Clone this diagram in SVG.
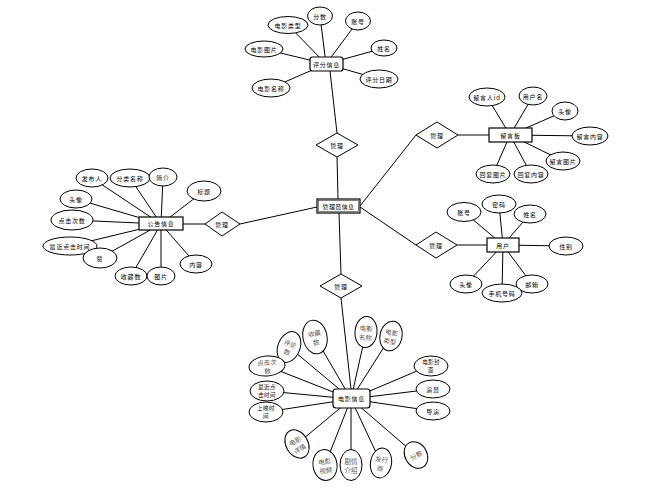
<svg xmlns="http://www.w3.org/2000/svg" width="657" height="488" viewBox="0 0 657 488">
<style>
.e{fill:#fff;stroke:#000;stroke-width:1}
.r{fill:#fff;stroke:#000;stroke-width:1.2}
.d{fill:#fff;stroke:#000;stroke-width:1}
.l{stroke:#000;stroke-width:1;fill:none}
text{font-family:"Noto Sans CJK SC","Noto Sans",sans-serif;font-size:6px;text-anchor:middle;dominant-baseline:central;fill:#000;letter-spacing:0.8px}
.g{fill:#555;font-size:6.5px;letter-spacing:0}
.s{font-size:5.5px;letter-spacing:0.4px}
</style>
<rect width="657" height="488" fill="#fff"/>
<g id="connectors">
<line class="l" x1="326" y1="64" x2="288" y2="25"/>
<line class="l" x1="326" y1="64" x2="320" y2="16"/>
<line class="l" x1="326" y1="64" x2="358" y2="21"/>
<line class="l" x1="326" y1="64" x2="384" y2="48"/>
<line class="l" x1="326" y1="64" x2="379" y2="79"/>
<line class="l" x1="326" y1="64" x2="264" y2="49"/>
<line class="l" x1="326" y1="64" x2="271" y2="88"/>
<line class="l" x1="330" y1="71" x2="337" y2="133"/>
<line class="l" x1="337" y1="157" x2="338" y2="199"/>
<line class="l" x1="360" y1="206" x2="416" y2="135"/>
<line class="l" x1="360" y1="207" x2="416" y2="245"/>
<line class="l" x1="317" y1="207" x2="240" y2="224"/>
<line class="l" x1="339" y1="213" x2="341" y2="274"/>
<line class="l" x1="341" y1="298" x2="351" y2="389"/>
<line class="l" x1="458" y1="135" x2="489" y2="135"/>
<line class="l" x1="510" y1="135" x2="487" y2="97"/>
<line class="l" x1="510" y1="135" x2="533" y2="96"/>
<line class="l" x1="510" y1="135" x2="565" y2="111"/>
<line class="l" x1="510" y1="135" x2="590" y2="136"/>
<line class="l" x1="510" y1="135" x2="563" y2="161"/>
<line class="l" x1="510" y1="135" x2="493" y2="174"/>
<line class="l" x1="510" y1="135" x2="531" y2="174"/>
<line class="l" x1="457" y1="245" x2="487" y2="245"/>
<line class="l" x1="503" y1="245" x2="464" y2="212"/>
<line class="l" x1="503" y1="245" x2="499" y2="204"/>
<line class="l" x1="503" y1="245" x2="530" y2="214"/>
<line class="l" x1="503" y1="245" x2="566" y2="246"/>
<line class="l" x1="503" y1="245" x2="532" y2="284"/>
<line class="l" x1="503" y1="245" x2="502" y2="293"/>
<line class="l" x1="503" y1="245" x2="466" y2="284"/>
<line class="l" x1="183" y1="224" x2="205" y2="224"/>
<line class="l" x1="161" y1="224" x2="92" y2="178"/>
<line class="l" x1="161" y1="224" x2="130" y2="178"/>
<line class="l" x1="161" y1="224" x2="163" y2="177"/>
<line class="l" x1="161" y1="224" x2="204" y2="191"/>
<line class="l" x1="161" y1="224" x2="76" y2="199"/>
<line class="l" x1="161" y1="224" x2="72" y2="220"/>
<line class="l" x1="161" y1="224" x2="70" y2="246"/>
<line class="l" x1="161" y1="224" x2="100" y2="258"/>
<line class="l" x1="161" y1="224" x2="131" y2="276"/>
<line class="l" x1="161" y1="224" x2="161" y2="276"/>
<line class="l" x1="161" y1="224" x2="196" y2="264"/>
<line class="l" x1="351" y1="399" x2="289" y2="347"/>
<line class="l" x1="351" y1="399" x2="315" y2="337"/>
<line class="l" x1="351" y1="399" x2="366" y2="332"/>
<line class="l" x1="351" y1="399" x2="391" y2="336"/>
<line class="l" x1="351" y1="399" x2="267" y2="366"/>
<line class="l" x1="351" y1="399" x2="267" y2="391"/>
<line class="l" x1="351" y1="399" x2="266" y2="412"/>
<line class="l" x1="351" y1="399" x2="431" y2="365"/>
<line class="l" x1="351" y1="399" x2="433" y2="389"/>
<line class="l" x1="351" y1="399" x2="433" y2="411"/>
<line class="l" x1="351" y1="399" x2="297" y2="444"/>
<line class="l" x1="351" y1="399" x2="325" y2="465"/>
<line class="l" x1="351" y1="399" x2="351" y2="465"/>
<line class="l" x1="351" y1="399" x2="381" y2="463"/>
<line class="l" x1="351" y1="399" x2="416" y2="455"/>
</g>

<g id="admin">
<rect class="r" x="317" y="199" width="43" height="14" stroke-width="1.6"/>
<rect x="318.5" y="200.5" width="40" height="11" fill="none" stroke="#000" stroke-width="0.5"/>
<text x="338.5" y="206" style="letter-spacing:0.4px">管理员信息</text>
</g>

<g id="rel-rating"><polygon class="d" points="337,133 358,145 337,157 316,145"/><text x="337" y="145">管理</text></g>
<g id="rel-msg"><polygon class="d" points="437,122 458,135 437,148 416,135"/><text x="437" y="135">管理</text></g>
<g id="rel-user"><polygon class="d" points="436,232 457,245 436,258 416,245"/><text x="436" y="245">管理</text></g>
<g id="rel-notice"><polygon class="d" points="222,212 240,224 222,236 205,224"/><text x="222" y="224">管理</text></g>
<g id="rel-movie"><polygon class="d" points="341,274 362,286 341,298 320,286"/><text x="341" y="286">管理</text></g>

<g id="rating">
<rect class="r" x="310" y="57" width="33" height="14" rx="2.5"/>
<text x="326.5" y="64">评分信息</text>
<ellipse class="e" cx="288" cy="25" rx="20" ry="8.5"/><text x="288" y="25">电影类型</text>
<ellipse class="e" cx="320" cy="16" rx="12.5" ry="9"/><text x="320" y="16">分数</text>
<ellipse class="e" cx="358" cy="21" rx="12.5" ry="9"/><text x="358" y="21">账号</text>
<ellipse class="e" cx="384" cy="48" rx="13" ry="8"/><text x="384" y="48">姓名</text>
<ellipse class="e" cx="379" cy="79" rx="19" ry="9"/><text x="379" y="79">评分日期</text>
<ellipse class="e" cx="264" cy="49" rx="19" ry="8"/><text x="264" y="49">电影图片</text>
<ellipse class="e" cx="271" cy="88" rx="19" ry="9"/><text x="271" y="88">电影名称</text>
</g>

<g id="msgboard">
<rect class="r" x="489" y="128" width="43" height="14"/>
<text x="510.5" y="135">留言板</text>
<ellipse class="e" cx="487" cy="97" rx="18" ry="9"/><text x="487" y="97">留言人id</text>
<ellipse class="e" cx="533" cy="96" rx="14" ry="9"/><text x="533" y="96">用户名</text>
<ellipse class="e" cx="565" cy="111" rx="13" ry="9"/><text x="565" y="111">头像</text>
<ellipse class="e" cx="590" cy="136" rx="18" ry="9"/><text x="590" y="136">留言内容</text>
<ellipse class="e" cx="563" cy="161" rx="17" ry="9"/><text x="563" y="161">留言图片</text>
<ellipse class="e" cx="493" cy="174" rx="17" ry="9"/><text x="493" y="174">回复图片</text>
<ellipse class="e" cx="531" cy="174" rx="17" ry="9"/><text x="531" y="174">回复内容</text>
</g>

<g id="user">
<rect class="r" x="487" y="238" width="32" height="14"/>
<text x="503" y="245">用户</text>
<ellipse class="e" cx="464" cy="212" rx="17" ry="9.5"/><text x="464" y="212">账号</text>
<ellipse class="e" cx="499" cy="204" rx="17" ry="9"/><text x="499" y="204">密码</text>
<ellipse class="e" cx="530" cy="214" rx="16" ry="9"/><text x="530" y="214">姓名</text>
<ellipse class="e" cx="566" cy="246" rx="17" ry="9"/><text x="566" y="246">性别</text>
<ellipse class="e" cx="532" cy="284" rx="16" ry="9"/><text x="532" y="284">邮箱</text>
<ellipse class="e" cx="502" cy="293" rx="20" ry="9"/><text x="502" y="293">手机号码</text>
<ellipse class="e" cx="466" cy="284" rx="16" ry="9"/><text x="466" y="284">头像</text>
</g>

<g id="notice">
<rect class="r" x="139" y="217" width="44" height="13"/>
<text x="161" y="223.5">公告信息</text>
<ellipse class="e" cx="92" cy="178" rx="16" ry="9"/><text x="92" y="178">发布人</text>
<ellipse class="e" cx="130" cy="178" rx="20" ry="9"/><text x="130" y="178">分类名称</text>
<ellipse class="e" cx="163" cy="177" rx="14" ry="9"/><text x="163" y="177">简介</text>
<ellipse class="e" cx="204" cy="191" rx="17" ry="10"/><text x="204" y="191">标题</text>
<ellipse class="e" cx="76" cy="199" rx="16" ry="9"/><text x="76" y="199">头像</text>
<ellipse class="e" cx="72" cy="220" rx="21" ry="10"/><text x="72" y="220">点击次数</text>
<ellipse class="e" cx="70" cy="246" rx="27" ry="9"/><text x="70" y="246">最近点击时间</text>
<ellipse class="e" cx="100" cy="258" rx="17" ry="10"/><text x="100" y="258">赞</text>
<ellipse class="e" cx="131" cy="276" rx="16" ry="9"/><text x="131" y="276">收藏数</text>
<ellipse class="e" cx="161" cy="276" rx="14" ry="9"/><text x="161" y="276">图片</text>
<ellipse class="e" cx="196" cy="264" rx="16" ry="9"/><text x="196" y="264">内容</text>
</g>

<g id="movie">
<rect class="r" x="333" y="389" width="37" height="19" rx="3"/>
<text x="351.5" y="398.5">电影信息</text>
<g transform="translate(289,347) rotate(22)"><ellipse class="e" rx="11" ry="16"/><text class="g" y="-4">评论</text><text class="g" y="5">数</text></g>
<g transform="translate(315,337) rotate(-12)"><ellipse class="e" rx="12" ry="17"/><text class="g" y="-4">收藏</text><text class="g" y="5">数</text></g>
<g transform="translate(366,332) rotate(5)"><ellipse class="e" rx="11" ry="15.5"/><text class="g" y="-4">电影</text><text class="g" y="5">名称</text></g>
<g transform="translate(391,336) rotate(12)"><ellipse class="e" rx="11" ry="15"/><text class="g" y="-4">电影</text><text class="g" y="5">类型</text></g>
<g transform="translate(267,366) rotate(-5)"><ellipse class="e" rx="18" ry="10"/><text class="g" y="-4">点击次</text><text class="g" y="4.5">数</text></g>
<ellipse class="e" cx="267" cy="391" rx="17" ry="10"/><text class="s" x="267" y="387">最近点</text><text class="s" x="267" y="395">击时间</text>
<ellipse class="e" cx="266" cy="412" rx="17" ry="10"/><text class="s" x="266" y="408">上映时</text><text class="s" x="266" y="416">间</text>
<ellipse class="e" cx="431" cy="366" rx="17" ry="10"/><text class="s" x="431" y="362">电影封</text><text class="s" x="431" y="370">面</text>
<ellipse class="e" cx="433" cy="389" rx="17" ry="9"/><text x="433" y="389">演员</text>
<ellipse class="e" cx="433" cy="411" rx="17" ry="9"/><text x="433" y="411">导演</text>
<g transform="translate(297,444) rotate(-30)"><ellipse class="e" rx="11" ry="15"/><text class="g" y="-4">电影</text><text class="g" y="5">详情</text></g>
<g transform="translate(325,465) rotate(-8)"><ellipse class="e" rx="12" ry="15.5"/><text class="g" y="-4">电影</text><text class="g" y="5">视频</text></g>
<g transform="translate(351,465)"><ellipse class="e" rx="11" ry="15.5"/><text class="g" y="-4">剧情</text><text class="g" y="5">介绍</text></g>
<g transform="translate(381,463) rotate(10)"><ellipse class="e" rx="10.5" ry="15"/><text class="g" y="-4">发行</text><text class="g" y="5">商</text></g>
<g transform="translate(416,455) rotate(-30)"><ellipse class="e" rx="11" ry="14"/><text class="g">分数</text></g>
</g>
</svg>
